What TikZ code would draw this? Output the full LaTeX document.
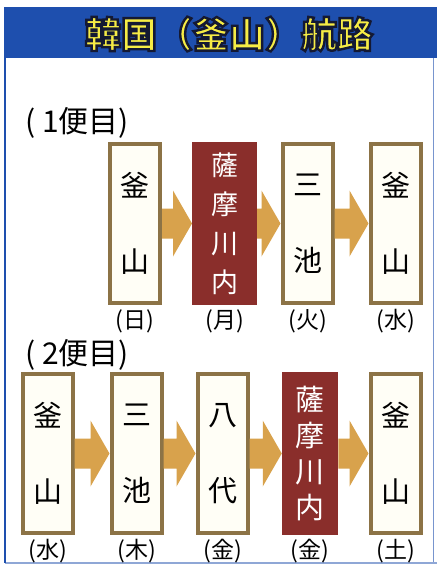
\documentclass[tikz,border=0pt]{standalone}
\usepackage{fontspec}
\setmainfont{Noto Sans CJK JP}
\usepackage{tikz}
\usetikzlibrary{calc}
\definecolor{boxbrown}{HTML}{8C7346}
\definecolor{cream}{HTML}{FFFEF6}
\definecolor{portred}{HTML}{8A2E2B}
\definecolor{arrowgold}{HTML}{D8A24C}
\definecolor{barblue}{HTML}{1E4FAE}
\definecolor{titleyellow}{HTML}{F6EC45}
\tikzset{
  portW/.style={ draw=boxbrown, line width=4pt, fill=cream, minimum width=50pt, minimum height=159pt,
    inner sep=0pt, align=center, font=\fontsize{29}{76}\selectfont }
}
\tikzset{
  portR/.style={ draw=portred, line width=4pt, fill=portred, text=white, minimum width=61pt, minimum height=159pt,
    inner sep=0pt, align=center, font=\fontsize{27}{39}\selectfont }
}
\tikzset{
  day/.style={ font=\fontsize{23}{23}\selectfont, inner sep=0pt }
}
\tikzset{
  trip/.style={ font=\fontsize{30}{30}\selectfont, inner sep=0pt, anchor=west }
}
\tikzset{
  titletext/.style={ font=\fontsize{36}{36}\selectfont\bfseries, inner sep=0pt, text=titleyellow }
}
% yellow letters with a dark outline (fill, then stroke)
\newcommand{\outlined}[1]{%
  \special{pdf:literal direct 2 Tr 2.4 w 0.08 0.1 0.2 RG}#1\special{pdf:literal direct 0 Tr}}
% block arrow from one port box to the next
\newcommand{\portarrow}[2]{%
  \fill[arrowgold] let \p1=(#1.east), \p2=(#2.west) in
    (\x1, \y1+15pt) -- (\x2-19pt, \y1+15pt) -- (\x2-19pt, \y1+33pt) -- (\x2, \y1)
    -- (\x2-19pt, \y1-33pt) -- (\x2-19pt, \y1-15pt) -- (\x1, \y1-15pt) -- cycle;
}

\begin{document}
\begin{tikzpicture}[x=1pt, y=-1pt, label distance=4pt]
      \useasboundingbox (0, 0) rectangle (437, 566);
      \fill[white] (0, 0) rectangle (437, 566);

      % frame and title bar
      \draw[barblue!60, line width=0.8pt] (433, 58) -- (433, 563);
      \draw[barblue!50, line width=1.2pt] (5, 563) -- (437, 563);
      \draw[barblue, line width=1.5pt] (5, 7) -- (5, 563);
      \fill[barblue] (4, 7) rectangle (437, 58);
      \node[titletext] (title) at (229, 34) {\outlined{韓国（釜山）航路}};

      % first trip
      \node[trip] (trip1) at (25, 123) {( 1便目)};
      \node[portW, label={[day]below:(日)}] (fu1) at (135, 223.5) {釜\\山};
      \node[portR, label={[day]below:(月)}] (sa1) at (224.5, 223.5) {薩\\摩\\川\\内};
      \node[portW, label={[day]below:(火)}] (mi1) at (307.5, 223.5) {三\\池};
      \node[portW, label={[day]below:(水)}] (fu1b) at (395.5, 223.5) {釜\\山};
      \portarrow{fu1}{sa1}
      \portarrow{sa1}{mi1}
      \portarrow{mi1}{fu1b}

      % second trip
      \node[trip] (trip2) at (25, 355) {( 2便目)};
      \node[portW, label={[day]below:(水)}] (fu2) at (47.5, 453.5) {釜\\山};
      \node[portW, label={[day]below:(木)}] (mi2) at (136.5, 453.5) {三\\池};
      \node[portW, label={[day]below:(金)}] (ya2) at (222.5, 453.5) {八\\代};
      \node[portR, minimum width=52.5pt, font=\fontsize{29}{36}\selectfont,
            label={[day]below:(金)}] (sa2) at (310, 453.5) {薩\\摩\\川\\内};
      \node[portW, label={[day]below:(土)}] (fu2b) at (395.5, 453.5) {釜\\山};
      \portarrow{fu2}{mi2}
      \portarrow{mi2}{ya2}
      \portarrow{ya2}{sa2}
      \portarrow{sa2}{fu2b}
    \end{tikzpicture}
\end{document}
